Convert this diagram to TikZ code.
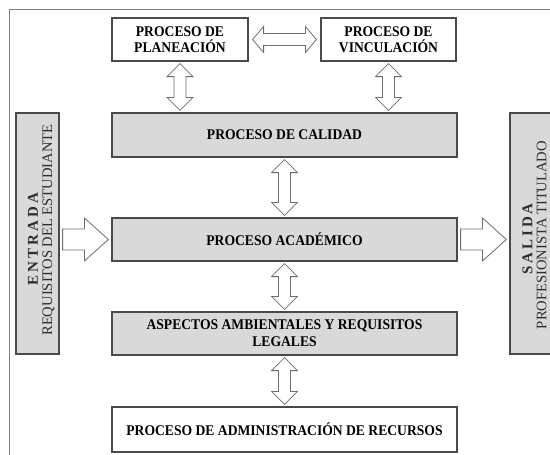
\documentclass[tikz,border=0pt]{standalone}
\usepackage{fontspec}
\setmainfont{Liberation Serif}
\newfontfamily\boxfont[FakeStretch=0.92]{Liberation Serif}
\usetikzlibrary{calc}
\definecolor{boxgray}{HTML}{D9D9D9}
\definecolor{edgec}{HTML}{4A4A4A}
\definecolor{arrowc}{HTML}{6E6E6E}
\definecolor{framec}{HTML}{7F7F7F}
\definecolor{sidetext}{HTML}{2E2E2E}
\tikzset{
  procbox/.style={draw=edgec, line width=1.2pt, rectangle, inner sep=0pt, align=center,
    font=\boxfont\bfseries\fontsize{14.8}{15.5}\selectfont},
  graybox/.style={procbox, fill=boxgray},
  whitebox/.style={procbox, fill=white},
  sidebox/.style={draw=edgec, line width=1.2pt, fill=boxgray, rectangle, inner sep=0pt},
  sidelabel/.style={rotate=90, text=sidetext, inner sep=0pt,
    font=\fontsize{14.6}{15.5}\selectfont},
  sidetitle/.style={rotate=90, text=sidetext, inner sep=0pt,
    font=\bfseries\fontsize{15}{15.5}\selectfont},
  fatarrow/.style={draw=arrowc, line width=0.8pt, fill=white, line join=miter},
  framel/.style={draw=framec, line width=0.9pt}
}
\newcommand{\lgap}{\hspace{3pt}}
\newcommand{\vdarrow}[2]{%
  \draw[fatarrow] let \p1=(#1.south), \p2=(#2.north) in
   (\x1,\y1-2pt) -- (\x1+13pt,\y1-15pt) -- (\x1+6pt,\y1-15pt) -- (\x1+6pt,\y2+15pt)
   -- (\x1+13pt,\y2+15pt) -- (\x1,\y2+2pt) -- (\x1-13pt,\y2+15pt) -- (\x1-6pt,\y2+15pt)
   -- (\x1-6pt,\y1-15pt) -- (\x1-13pt,\y1-15pt) -- cycle;}
\newcommand{\hdarrow}[2]{%
  \draw[fatarrow] let \p1=(#1.east), \p2=(#2.west) in
   (\x1+4pt,\y1) -- (\x1+15pt,\y1+13pt) -- (\x1+15pt,\y1+6pt) -- (\x2-15pt,\y1+6pt)
   -- (\x2-15pt,\y1+13pt) -- (\x2-4pt,\y1) -- (\x2-15pt,\y1-13pt) -- (\x2-15pt,\y1-6pt)
   -- (\x1+15pt,\y1-6pt) -- (\x1+15pt,\y1-13pt) -- cycle;}
\newcommand{\rarrow}[2]{%
  \draw[fatarrow] let \p1=(#1.east), \p2=(#2.west), \p3=(acad.center) in
   (\x1+3pt,\y3+10.5pt) -- (\x2-27pt,\y3+10.5pt) -- (\x2-27pt,\y3+21.5pt) -- (\x2-3pt,\y3)
   -- (\x2-27pt,\y3-21.5pt) -- (\x2-27pt,\y3-10.5pt) -- (\x1+3pt,\y3-10.5pt) -- cycle;}
\begin{document}
\begin{tikzpicture}[x=1pt,y=-1pt]
\useasboundingbox (0,0) rectangle (550,455);
\clip (0,0) rectangle (550,455);
\fill[white] (0,0) rectangle (550,455);
% frame
\coordinate (fbl) at (9,456);
\coordinate (ftl) at (9,9);
\coordinate (ftr) at (551,9);
\draw[framel] (fbl) -- (ftl) -- (ftr);
% boxes
\node[whitebox, minimum width=136pt, minimum height=43pt] (plan) at (180,39.5) {PROCESO DE\\PLANEACIÓN};
\node[whitebox, minimum width=135pt, minimum height=43pt] (vinc) at (388.5,39.5) {PROCESO DE\\VINCULACIÓN};
\node[graybox, minimum width=345pt, minimum height=44pt] (cal) at (284.5,135) {PROCESO DE CALIDAD};
\node[graybox, minimum width=345pt, minimum height=43pt] (acad) at (284.5,239.5) {PROCESO ACADÉMICO};
\node[graybox, minimum width=345pt, minimum height=43pt, font=\boxfont\bfseries\fontsize{14.8}{17}\selectfont] (amb) at (284.5,333.5) {ASPECTOS AMBIENTALES Y REQUISITOS\\LEGALES};
\node[whitebox, minimum width=345pt, minimum height=45pt] (adm) at (284.5,429.5) {PROCESO DE ADMINISTRACIÓN DE RECURSOS};
\node[sidebox, minimum width=43pt, minimum height=241pt] (ent) at (37.5,233.5) {};
\node[sidebox, minimum width=42pt, minimum height=241pt] (sal) at (531,233.5) {};
\node[sidetitle] (entt) at (33,239) {E\lgap N\lgap T\lgap R\lgap A\lgap D\lgap A};
\node[sidelabel] (entl) at (48.5,230) {REQUISITOS DEL ESTUDIANTE};
\node[sidetitle] (salt) at (527.5,239) {S\lgap A\lgap L\lgap I\lgap D\lgap A};
\node[sidelabel] (sall) at (541.5,235) {PROFESIONISTA TITULADO};
% arrows
\hdarrow{plan}{vinc}
\vdarrow{plan}{cal}
\vdarrow{vinc}{cal}
\vdarrow{cal}{acad}
\vdarrow{acad}{amb}
\vdarrow{amb}{adm}
\rarrow{ent}{acad}
\rarrow{acad}{sal}
\end{tikzpicture}
\end{document}
